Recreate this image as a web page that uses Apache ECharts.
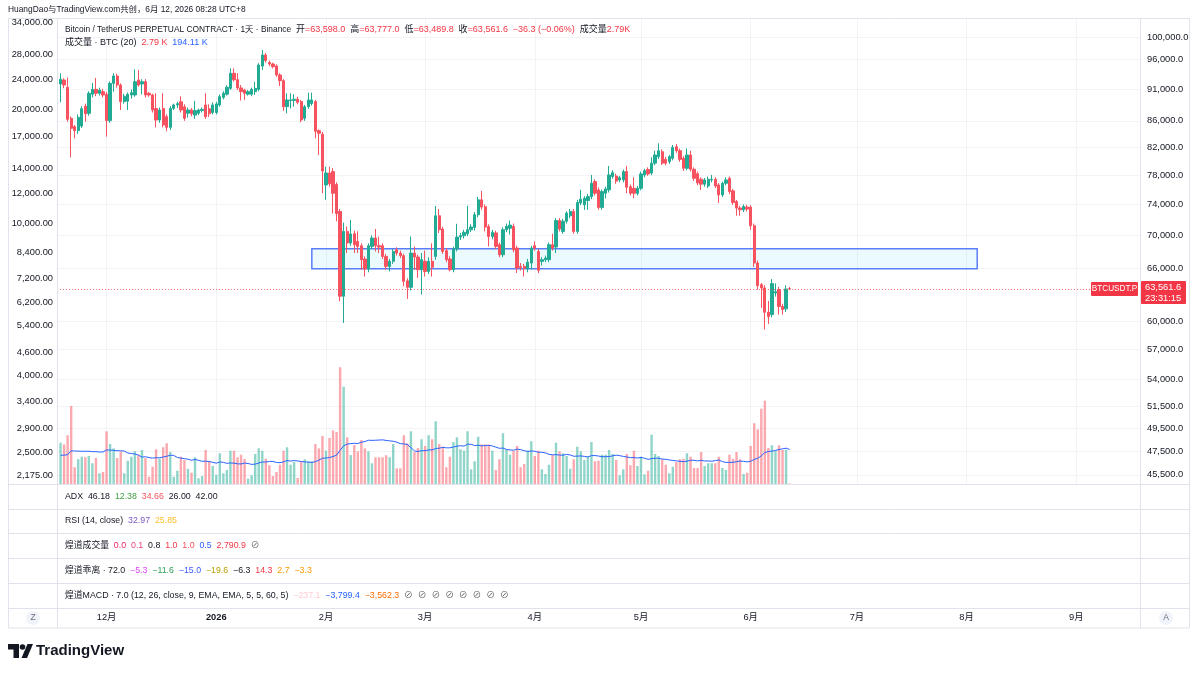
<!DOCTYPE html>
<html>
<head>
<meta charset="utf-8">
<title>BTCUSDT.P 1天</title>
<script src="https://cdn.jsdelivr.net/npm/echarts@6.0.0/dist/echarts.min.js"></script>
<style>
html,body{margin:0;padding:0;background:#fff;}
#main{width:1200px;height:673px;}
</style>
</head>
<body>
<div id="main"></div>
<script>
// first category of the time axis, number of days shown, index of the first candle
var startDay = [2025, 10, 17];
var dayCount = 307;
var firstBar = 1;

// daily candles from 2025-11-18 to 2026-06-12: [open, close, low, high]
var candles = [
  [91900,92680,88930,93680],[92560,91730,91200,92850],[91350,86240,85870,92950],[86400,84860,80550,86700],
  [85100,84500,83350,85360],[84500,86550,84000,87000],[85200,87900,84900,88300],[88300,87100,85870,88700],
  [87170,90370,86800,90700],[90230,91020,89700,92080],[91020,90370,89900,92900],[90370,90900,90000,91300],
  [90640,90100,89700,91100],[90200,86040,83600,90600],[86040,92000,85700,92300],[92000,93230,90640,93680],
  [93230,91730,91300,93600],[91730,89030,87700,92000],[89030,89900,88700,90300],[89100,90200,87700,90500],
  [90100,90470,89500,91000],[90100,92280,89800,94360],[92560,91730,91450,94240],[91900,92280,90200,92700],
  [92280,90100,89700,92700],[90370,90100,89800,90600],[90100,87700,87300,90300],[87930,86130,85000,90370],
  [86130,87700,85700,88100],[87930,85360,85000,90370],[86650,85000,84400,87000],[85000,87930,84600,88300],
  [87960,88500,87700,88700],[88500,88700,88000,89000],[89000,87700,87300,89900],[88200,86400,86000,88600],
  [87200,87700,86500,88100],[87700,87100,86700,88000],[86900,87600,86300,89140],[87200,87700,86900,87900],
  [87600,87800,87300,88100],[88500,86650,86300,90370],[87900,87100,86600,88600],[87300,88500,87000,88900],
  [87300,88650,87000,89000],[88500,89830,88200,90200],[89720,90370,89400,90700],[90230,91350,90000,91700],
  [91180,93680,90900,94520],[93680,92600,92300,94500],[92600,91250,90900,93700],[91250,90640,89200,91730],
  [90900,90370,89300,91100],[90230,90640,90000,90900],[90230,91020,89900,91300],[90640,91180,90100,92280],
  [91020,95090,90700,95400],[94900,96820,94240,97690],[96820,95850,95500,97150],[95520,95260,94900,95850],
  [95260,94810,94500,95500],[94920,93400,93100,95200],[93400,92450,91560,93700],[92450,88200,87560,92700],
  [88230,89300,87170,90370],[89200,89300,87930,90370],[89200,89410,88230,90230],[89410,88930,88600,89800],
  [89030,86130,85800,89300],[86400,88200,86000,88500],[88230,89300,87900,90470],[88700,89300,88400,90470],
  [89030,84400,83350,89300],[84500,84100,80880,84700],[83950,78590,75500,84300],[76640,78300,74610,79200],
  [78300,76800,76400,79200],[78500,75500,72800,79000],[76700,72800,71780,77000],[73070,62740,62160,73400],
  [62740,70500,59800,71630],[70500,69040,67800,71130],[69040,70170,68700,71980],[70200,68830,67800,70600],
  [69240,68620,67800,70500],[68700,67000,65810,69000],[67080,65890,65000,67400],[65890,68700,65500,69000],
  [68620,69660,68300,70000],[69660,68700,68000,70800],[68700,68540,67800,69850],[68700,67400,67100,69000],
  [67400,66200,65810,67700],[66200,66800,65600,67100],[66800,68000,66500,68300],[68200,67800,67500,68500],
  [67800,67480,67200,68100],[67480,64440,63870,67700],[64500,63750,62440,64800],[63750,67800,63400,69850],
  [67800,67320,65810,68620],[67320,65810,64840,67600],[65810,67000,62930,67800],[66800,65600,65000,68100],
  [65600,66800,65300,67300],[66800,66100,65000,69000],[67400,72500,67000,73800],[72500,70710,70300,73380],
  [70800,68000,67700,71100],[68100,67000,66700,68400],[67080,65810,65600,67400],[65810,68290,65500,68600],
  [68290,69780,68000,71470],[69780,69950,69400,70300],[69950,70370,69600,70700],[70200,70710,69900,73820],
  [70710,71050,70400,71400],[71000,72640,70600,73000],[72640,74610,72300,75000],[74610,73650,73300,75830],
  [73700,71050,70500,74000],[71100,69850,68620,71400],[69850,70370,69500,70700],[70300,68620,68300,70600],
  [68830,67600,67300,69100],[67600,70710,67300,71000],[70710,71130,70400,71500],[70900,71300,70100,71900],
  [71130,68210,67900,71500],[68420,66000,65420,68700],[66200,66080,65700,66600],[66200,65960,65000,66500],
  [65890,66700,65500,67100],[66600,68420,65810,68700],[68700,68420,68100,69240],[68000,65740,65400,68300],
  [66800,67000,66300,67300],[67000,67200,66700,67500],[67000,68830,66700,69100],[68830,68420,68100,70200],
  [68540,71890,67800,72200],[71890,70800,70500,72200],[70500,71800,70200,72100],[71800,72860,71500,73100],
  [72500,73070,72200,73400],[73070,70500,70200,73400],[70500,74250,70200,74600],[74200,74700,73900,75960],
  [73950,74830,73290,75100],[74520,75050,73290,75400],[75050,76870,74700,78030],[77100,75500,75200,77400],
  [75960,73600,73300,76300],[73600,75730,73300,76000],[75500,76100,74800,76400],[75960,78030,75600,79300],
  [77800,78350,77500,78700],[77870,77170,76800,78200],[77330,77650,77000,77900],[77330,78500,77000,78800],
  [78500,76330,75500,79300],[76400,75500,75200,76700],[76170,75500,74830,77700],[75500,76170,75200,76500],
  [76170,78170,75900,78500],[78030,78630,77700,78900],[78800,78170,77900,79100],[78310,79700,78000,80550],
  [79700,80880,79400,81500],[80630,81500,80300,82600],[81350,79700,79440,81700],[80250,79700,79400,80600],
  [79920,80640,79600,80900],[80400,82000,80100,82350],[82100,81500,81200,82500],[81500,80250,79900,81800],
  [80400,78970,78600,80700],[78970,80880,78700,81850],[80880,78830,78500,81500],[78830,77560,77200,79100],
  [78200,76920,76600,78500],[77430,76750,75960,77700],[76750,77330,76400,77600],[76500,77430,76200,77800],
  [77330,77430,77000,78030],[77430,76500,76200,77700],[76640,75280,74200,76900],[75280,76870,75000,77100],
  [76870,77330,76600,77700],[77560,75730,75400,77800],[75830,74250,73950,76100],[74390,73520,72510,74600],
  [73520,73290,72510,73800],[73290,73730,73000,74000],[73650,73380,73070,73950],[73650,71220,70710,73900],
  [71220,66600,66120,71500],[66600,63950,63500,66900],[64060,63680,61440,64250],[63680,60960,59090,64000],
  [60960,60500,59700,62200],[60700,64180,60400,64700],[63100,63250,62700,64200],[63490,61600,60700,63800],
  [61600,61250,60700,61900],[61330,63560,61000,63980],[63598.0,63561.6,63489.8,63777.0]
];

// daily volume, thousands of BTC
var volumes = [
  227,218,268,429,92,137,150,147,154,114,143,59,66,290,220,196,143,178,59,128,
  150,180,159,187,143,40,95,191,139,202,224,176,40,73,150,132,84,62,147,31,
  44,187,125,99,51,169,59,77,183,183,147,161,137,29,48,165,196,183,139,103,
  44,66,106,183,202,106,121,33,125,136,125,125,220,196,264,183,253,295,286,642,
  535,257,159,214,180,242,196,180,114,147,147,147,158,147,220,86,86,268,224,290,
  176,198,246,209,268,246,345,220,205,92,150,231,257,191,183,290,81,125,260,218,
  218,216,183,77,136,279,191,161,183,209,92,110,183,235,154,183,81,55,106,161,
  227,180,169,154,84,136,205,180,132,150,231,125,128,161,161,187,165,132,48,81,
  165,103,183,99,150,53,73,271,165,154,136,106,59,95,121,136,139,169,150,88,
  88,176,99,114,114,114,150,88,77,161,139,176,136,55,62,209,334,301,414,458,
  198,213,183,213,187,187,2.79
];

// volume MA(20) for the first 19 candles (earlier bars are off screen)
var volMaHead = [158,159,161,183,181,181,180,180,180,178,178,176,176,187,187,185,183,183,181];

// axis tick labels
var priceTicks = [100000,96000,91000,86000,82000,78000,74000,70000,66000,60000,57000,54000,51500,49500,47500,45500];
var leftTicks = [34000,28000,24000,20000,17000,14000,12000,10000,8400,7200,6200,5400,4600,4000,3400,2900,2500,2175];

// drawn rectangle zone
var zoneDates = ['2026-01-28', '2026-08-04'];
var zonePrices = [65920, 68340];

// legend values shown in the panes
var lastChange = '−36.3 (−0.06%)';
var volLegend = ['2.79 K', '194.11 K'];
var adxLegend = [['ADX', '#131722'], ['46.18', '#131722'], ['12.38', '#43a047'], ['34.66', '#f7525f'], ['26.00', '#131722'], ['42.00', '#131722']];
var rsiLegend = [['RSI (14, close)', '#131722'], ['32.97', '#7e57c2'], ['25.85', '#fbc02d']];
var hdVolLegend = [['煌道成交量', '#131722'], ['0.0', '#e91e63'], ['0.1', '#ec407a'], ['0.8', '#131722'], ['1.0', '#f23645'], ['1.0', '#f7525f'], ['0.5', '#2962ff'], ['2,790.9', '#f23645'], ['⊘', '#555']];
var hdBiasLegend = [['煌道乖离 · 72.0', '#131722'], ['−5.3', '#e040fb'], ['−11.6', '#2e9e57'], ['−15.0', '#3d5afe'], ['−19.6', '#b5a000'], ['−6.3', '#131722'], ['14.3', '#f23645'], ['2.7', '#ff9800'], ['−3.3', '#ff9800']];
var hdMacdLegend = [['煌道MACD · 7.0 (12, 26, close, 9, EMA, EMA, 5, 5, 60, 5)', '#131722'], ['−237.1', '#ffcdd2'], ['−3,799.4', '#2962ff'], ['−3,562.3', '#ff6d00'],
  ['⊘', '#555'], ['⊘', '#555'], ['⊘', '#555'], ['⊘', '#555'], ['⊘', '#555'], ['⊘', '#555'], ['⊘', '#555'], ['⊘', '#555']];

var upColor = '#22ab94', downColor = '#f7525f';
var upVol = 'rgba(34,171,148,0.5)', downVol = 'rgba(247,82,95,0.5)';
var txt = '#131722', sep = '#e0e3eb', grid = '#f2f3f6';
var font = '"Liberation Sans", "Noto Sans CJK SC", sans-serif';
var fs = 9.3;      // axis labels
var lfs = 8.8;     // pane legends

function pad(n) { return n < 10 ? '0' + n : '' + n; }
var dates = [];
var d = new Date(Date.UTC(startDay[0], startDay[1], startDay[2]));
for (var i = 0; i < dayCount; i++) {
  dates.push(d.getUTCFullYear() + '-' + pad(d.getUTCMonth() + 1) + '-' + pad(d.getUTCDate()));
  d.setUTCDate(d.getUTCDate() + 1);
}
function monthStart(index, value) { return value.slice(8) === '01'; }
function monthLabel(value) {
  var m = +value.slice(5, 7);
  return m === 1 ? '{y|' + value.slice(0, 4) + '}' : m + '月';
}
function num(v, k) { return v.toLocaleString('en-US', {minimumFractionDigits: k, maximumFractionDigits: k}); }

var kData = [], vData = [], maData = [];
for (var i = 0; i < dayCount; i++) { kData.push('-'); vData.push('-'); maData.push('-'); }
candles.forEach(function (c, j) {
  var i = firstBar + j;
  kData[i] = c;
  vData[i] = {value: volumes[j], itemStyle: {color: c[1] >= c[0] ? upVol : downVol}};
  if (j < volMaHead.length) {
    maData[i] = volMaHead[j];
  } else {
    var s = 0;
    for (var k = j - 19; k <= j; k++) s += volumes[k];
    maData[i] = +(s / 20).toFixed(2);
  }
});
var last = candles[candles.length - 1];

var chart = echarts.init(document.getElementById('main'));
chart.setOption({
  animation: false,
  backgroundColor: '#fff',
  textStyle: {fontFamily: font},
  grid: {left: 57, right: 60, top: 18, bottom: 189},
  xAxis: {
    type: 'category', data: dates, boundaryGap: false,
    axisLine: {show: false}, axisTick: {show: false},
    axisLabel: {interval: monthStart, formatter: monthLabel, margin: 129, color: txt, fontSize: fs,
      rich: {y: {fontWeight: 'bold', color: txt, fontSize: fs}}},
    splitLine: {show: true, interval: monthStart, lineStyle: {color: grid}}
  },
  yAxis: [
    {type: 'log', position: 'right', min: 44760, max: 103476,
      axisLine: {show: false}, axisTick: {show: false, customValues: priceTicks},
      axisLabel: {customValues: priceTicks, color: txt, fontSize: fs, margin: 7,
        formatter: function (v) { return num(v, 1); }},
      splitLine: {show: true, lineStyle: {color: grid}}},
    {type: 'log', position: 'left', min: 2067, max: 34835,
      axisLine: {show: false}, axisTick: {show: false, customValues: leftTicks},
      axisLabel: {customValues: leftTicks, color: txt, fontSize: fs, margin: 4,
        formatter: function (v) { return num(v, 2); }},
      splitLine: {show: false}},
    {type: 'value', show: false, min: 0, max: 2563}
  ],
  series: [
    {type: 'bar', name: '成交量', yAxisIndex: 2, data: vData, barWidth: 2.4, z: 1},
    {type: 'line', name: 'MA20', yAxisIndex: 2, data: maData, symbol: 'none', z: 2,
      lineStyle: {color: '#2962ff', width: 1}},
    {type: 'candlestick', name: 'BTCUSDT.P', yAxisIndex: 0, data: kData, barWidth: 2.8, z: 3,
      itemStyle: {color: upColor, color0: downColor, borderColor: upColor, borderColor0: downColor, borderWidth: 1},
      markArea: {silent: true,
        itemStyle: {color: 'rgba(0,188,212,0.08)', borderColor: '#5b7ef6', borderWidth: 1.5},
        data: [[{xAxis: zoneDates[0], yAxis: zonePrices[1]}, {xAxis: zoneDates[1], yAxis: zonePrices[0]}]]},
      markLine: {silent: true, symbol: 'none', label: {show: false},
        data: [{yAxis: last[1], lineStyle: {color: '#f7525f', type: [1, 2], width: 1, opacity: 0.8}}]}}
  ]
});

// items: [text, colour, noGapAfter, fontSize]
function richLine(items, size) {
  var rich = {}, s = '';
  items.forEach(function (it, i) {
    rich['c' + i] = {fill: it[1], fontSize: it[3] || size, fontFamily: font};
    s += '{c' + i + '|' + it[0] + '}' + (it[2] || i === items.length - 1 ? '' : '  ');
  });
  return {text: s, rich: rich};
}
function textEl(x, y, line) {
  return {type: 'text', silent: true, z: 20,
    style: {x: x, y: y, text: line.text, rich: line.rich, verticalAlign: 'middle', fontFamily: font, fontSize: lfs, fill: txt}};
}
function hline(y) { return {type: 'line', silent: true, z: 10, shape: {x1: 8.5, y1: y, x2: 1189.5, y2: y}, style: {stroke: sep, lineWidth: 1}}; }
function vline(x) { return {type: 'line', silent: true, z: 10, shape: {x1: x, y1: 18.5, x2: x, y2: 628}, style: {stroke: sep, lineWidth: 1}}; }

var red = '#f23645';
var header1 = richLine([
  ['Bitcoin / TetherUS PERPETUAL CONTRACT · 1天 · Binance', txt, 0, 8.4],
  ['开', txt, 1], ['=' + num(last[0], 1), red], ['高', txt, 1], ['=' + num(last[3], 1), red],
  ['低', txt, 1], ['=' + num(last[2], 1), red], ['收', txt, 1], ['=' + num(last[1], 1), red],
  [lastChange, red], ['成交量', txt, 1], [volLegend[0].replace(' ', ''), red]
], 9);
var header2 = richLine([['成交量 · BTC (20)', txt], [volLegend[0], red], [volLegend[1], '#2962ff']], 9);

var py = chart.convertToPixel({yAxisIndex: 0}, last[1]);
var paneY = [496.5, 521, 546, 570.5, 595.5];
var g = [
  {type: 'rect', silent: true, z: 10, shape: {x: 8.5, y: 18.5, width: 1181, height: 609.5}, style: {fill: 'none', stroke: sep, lineWidth: 1}},
  vline(57.5), vline(1140.5),
  hline(484.5), hline(509.5), hline(533.5), hline(558.5), hline(583.5), hline(608.5),
  {type: 'text', silent: true, style: {x: 8, y: 10, text: 'HuangDao与TradingView.com共创，6月 12, 2026 08:28 UTC+8', fill: txt, fontSize: 8.4, fontFamily: font, verticalAlign: 'middle'}},
  textEl(65, 30, header1),
  textEl(65, 43, header2),
  textEl(65, paneY[0], richLine(adxLegend, lfs)),
  textEl(65, paneY[1], richLine(rsiLegend, lfs)),
  textEl(65, paneY[2], richLine(hdVolLegend, lfs)),
  textEl(65, paneY[3], richLine(hdBiasLegend, lfs)),
  textEl(65, paneY[4], richLine(hdMacdLegend, lfs)),
  {type: 'circle', silent: true, z: 11, shape: {cx: 33, cy: 618, r: 7}, style: {fill: '#f0f3fa'}},
  {type: 'text', silent: true, z: 12, style: {x: 33, y: 618, text: 'Z', fill: '#6a6d78', fontSize: 8.5, fontFamily: font, align: 'center', verticalAlign: 'middle'}},
  {type: 'circle', silent: true, z: 11, shape: {cx: 1166, cy: 618, r: 7}, style: {fill: '#f0f3fa'}},
  {type: 'text', silent: true, z: 12, style: {x: 1166, y: 618, text: 'A', fill: '#6a6d78', fontSize: 8.5, fontFamily: font, align: 'center', verticalAlign: 'middle'}},
  // TradingView logo
  {type: 'polygon', silent: true, shape: {points: [[8, 644], [19, 644], [19, 658], [13.5, 658], [13.5, 649.5], [8, 649.5]]}, style: {fill: '#131722'}},
  {type: 'circle', silent: true, shape: {cx: 22.5, cy: 647, r: 2.8}, style: {fill: '#131722'}},
  {type: 'polygon', silent: true, shape: {points: [[27.5, 644], [33, 644], [27, 658], [21.5, 658]]}, style: {fill: '#131722'}},
  {type: 'text', silent: true, style: {x: 36, y: 651, text: 'TradingView', fill: '#131722', fontSize: 15, fontWeight: 'bold', fontFamily: font, verticalAlign: 'middle'}},
  // last price tags
  {type: 'rect', silent: true, z: 30, shape: {x: 1141, y: py - 8, width: 45, height: 23, r: 1}, style: {fill: red}},
  {type: 'text', silent: true, z: 31, style: {x: 1145, y: py - 2, text: num(last[1], 1), fill: '#fff', fontSize: fs, fontFamily: font, verticalAlign: 'middle'}},
  {type: 'text', silent: true, z: 31, style: {x: 1145, y: py + 9, text: '23:31:15', fill: '#fff', fontSize: fs, fontFamily: font, verticalAlign: 'middle'}},
  {type: 'rect', silent: true, z: 30, shape: {x: 1091, y: py - 7, width: 47, height: 14, r: 1}, style: {fill: red}},
  {type: 'text', silent: true, z: 31, style: {x: 1114.5, y: py, text: 'BTCUSDT.P', fill: '#fff', fontSize: 8.2, fontFamily: font, align: 'center', verticalAlign: 'middle'}}
];
chart.setOption({graphic: g});
</script>
</body>
</html>
